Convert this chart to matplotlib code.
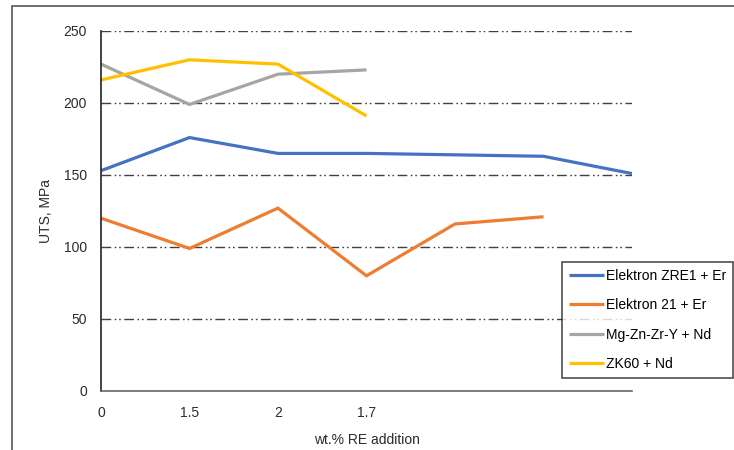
import numpy as np
import matplotlib.pyplot as plt
from matplotlib.patches import Rectangle

plt.rcParams['font.family'] = ['Liberation Sans', 'DejaVu Sans']

# category positions: only the first four carry labels
tick_labels = ['0', '1.5', '2', '1.7', '', '', '']

zre1_er = [153, 176, 165, 165, 164, 163, 151]
el21_er = [120, 99, 127, 80, 116, 121]
mgznzry_nd = [227, 199, 220, 223]
zk60_nd = [216, 230, 227, 191]

names = ['Elektron ZRE1 + Er', 'Elektron 21 + Er', 'Mg-Zn-Zr-Y + Nd', 'ZK60 + Nd']
colors = ['#4472C4', '#ED7D31', '#A5A5A5', '#FFC000']

fig = plt.figure(figsize=(7.34, 4.5), dpi=100)
ax = fig.add_axes([101 / 734, 59 / 450, 531 / 734, 360 / 450])

# outer frame of the chart
fig.patches.append(Rectangle((12 / 734, -0.1), 1.0, 1 - 6 / 450 + 0.1, transform=fig.transFigure,
                             fill=False, edgecolor='#555555', linewidth=1.2))

for series, name, c in zip([zre1_er, el21_er, mgznzry_nd, zk60_nd], names, colors):
    ax.plot(np.arange(len(series)), series, color=c, linewidth=2.3, label=name,
            solid_capstyle='butt', solid_joinstyle='miter')

for v in [50, 100, 150, 200, 250]:
    ax.axhline(v, color='#404040', linewidth=1.0, dashes=(7, 2.5, 1.2, 2, 1.2, 2.5), zorder=0)

ax.set_xlim(0, 6)
ax.set_ylim(0, 250)
ax.set_xticks(np.arange(len(tick_labels)))
ax.set_xticklabels(tick_labels)
ax.set_yticks([0, 50, 100, 150, 200, 250])
ax.tick_params(length=0, labelsize=10, colors='#2b2b2b', pad=11)
ax.tick_params(axis='y', pad=10)

for s in ['top', 'right']:
    ax.spines[s].set_visible(False)
ax.spines['left'].set_color('#222222')
ax.spines['bottom'].set_color('#666666')
ax.spines['left'].set_linewidth(1.2)
ax.spines['bottom'].set_linewidth(1.2)

ax.set_ylabel('UTS, MPa', fontsize=10, color='#2b2b2b', labelpad=8)
ax.set_xlabel('wt.% RE addition', fontsize=10, color='#2b2b2b', labelpad=9)

leg = fig.legend(loc='upper left', bbox_to_anchor=(562 / 734, 1 - 262 / 450), fontsize=10,
                 frameon=True, fancybox=False, edgecolor='#222222', handlelength=2.5,
                 handletextpad=0.15, borderaxespad=0, labelspacing=1.1, borderpad=0.5)
leg.get_frame().set_linewidth(1.2)

fig.savefig('out.png', dpi=100)
